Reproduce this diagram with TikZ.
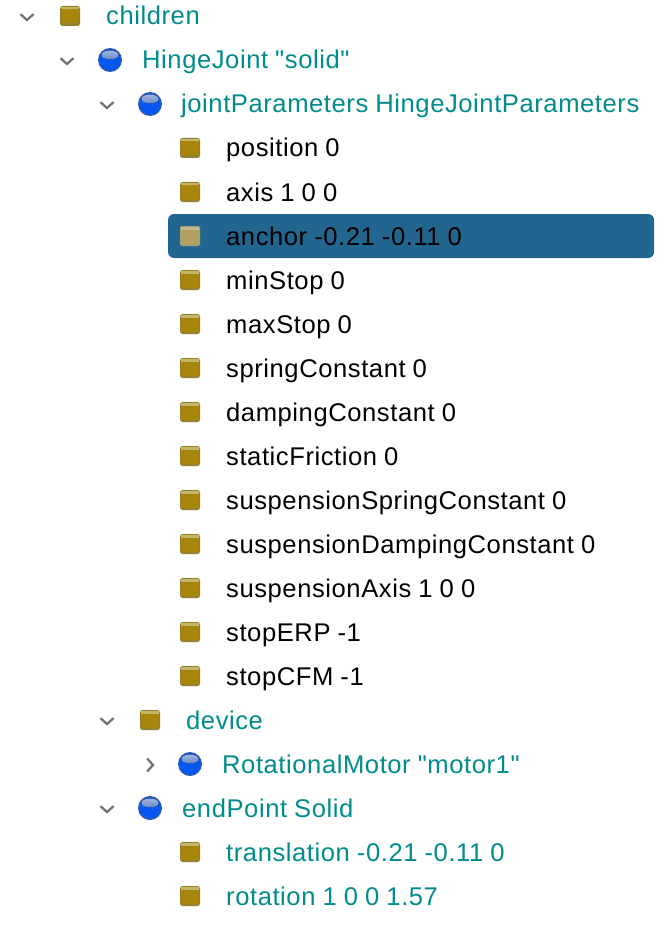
\documentclass[tikz,border=0pt]{standalone}
\usepackage{fontspec}
\setmainfont[Ligatures=TeXOff,LetterSpace=2.2,WordSpace=0.92]{Liberation Sans}
\definecolor{tealtxt}{HTML}{008C8C}
\definecolor{selblue}{HTML}{22658F}
\definecolor{chev}{HTML}{6E6E6E}
\definecolor{boxgold}{HTML}{A8860C}
\definecolor{boxedge}{HTML}{94802F}
\definecolor{boxlight}{HTML}{C6B468}
\definecolor{boxveil}{HTML}{B9BDB0}
\definecolor{ballblue}{HTML}{0558F2}
\definecolor{balledge}{HTML}{2C5AAE}
\definecolor{balllight}{HTML}{A3B8DA}
\definecolor{balllow}{HTML}{6288CC}
\tikzset{
  lbl/.style={anchor=base west,inner sep=0pt,font=\fontsize{25.6}{28}\selectfont},
  fieldlbl/.style={lbl,text=black},
  nodelbl/.style={lbl,text=tealtxt},
  chevline/.style={draw=chev,line width=2.2pt,line cap=butt,line join=miter},
}
\newcommand{\chevdown}[2]{\draw[chevline] (#1-6.5,#2-2.8) -- (#1,#2+3) -- (#1+6.5,#2-2.8);}
\newcommand{\chevright}[2]{\draw[chevline] (#1-2.8,#2-6.5) -- (#1+3,#2) -- (#1-2.8,#2+6.5);}
\newcommand{\goldbox}[2]{%
  \fill[boxedge,rounded corners=2.5pt] (#1-10,#2-10) rectangle (#1+10,#2+10);
  \fill[boxgold] (#1-8.7,#2-6.5) rectangle (#1+8.7,#2+7.5);
  \fill[boxlight] (#1-8.7,#2-9) rectangle (#1+8.7,#2-6.5);
}
\newcommand{\blueball}[2]{%
  \fill[balledge] (#1,#2) circle (12);
  \fill[ballblue] (#1,#2) circle (10.6);
  \fill[top color=balllight,bottom color=balllow] (#1,#2-5) ellipse (8.5 and 4.5);
}
\begin{document}
\begin{tikzpicture}[x=1pt,y=-1pt]
\useasboundingbox (0,0) rectangle (670,928);
\fill[white] (0,0) rectangle (670,928);
\fill[selblue,rounded corners=6pt] (168,214) rectangle (654,258);
% expand arrows / icons
\chevdown{27}{17}\goldbox{70}{16}
\chevdown{67}{61}\blueball{110}{60}
\chevdown{107}{105}\blueball{150}{104}
\goldbox{190}{148}
\goldbox{190}{192}
\goldbox{190}{236}
\fill[boxveil,opacity=.5,rounded corners=2pt] (180,226) rectangle (200,246);
\foreach \yy in {280,324,368,412,456,500,544,588,632,676}{\goldbox{190}{\yy}}
\chevdown{107}{721}\goldbox{150}{720}
\chevright{150}{765}\blueball{190}{764}
\chevdown{107}{809}\blueball{150}{808}
\goldbox{190}{852}
\goldbox{190}{896}
% labels
\node[nodelbl] (children) at (106,25) {children};
\node[nodelbl] (hinge) at (142,69) {HingeJoint "solid"};
\node[nodelbl] (joint) at (181,113) {jointParameters HingeJointParameters};
\node[fieldlbl] (position) at (226,157) {position 0};
\node[fieldlbl] (axis) at (226,201) {axis 1 0 0};
\node[fieldlbl] (anchor) at (226,245) {anchor -0.21 -0.11 0};
\node[fieldlbl] (minstop) at (226,289) {minStop 0};
\node[fieldlbl] (maxstop) at (226,333) {maxStop 0};
\node[fieldlbl] (spring) at (226,377) {springConstant 0};
\node[fieldlbl] (damping) at (226,421) {dampingConstant 0};
\node[fieldlbl] (friction) at (226,465) {staticFriction 0};
\node[fieldlbl] (susspring) at (226,509) {suspensionSpringConstant 0};
\node[fieldlbl] (susdamp) at (226,553) {suspensionDampingConstant 0};
\node[fieldlbl] (susaxis) at (226,597) {suspensionAxis 1 0 0};
\node[fieldlbl] (erp) at (226,641) {stopERP -1};
\node[fieldlbl] (cfm) at (226,685) {stopCFM -1};
\node[nodelbl] (device) at (186,729) {device};
\node[nodelbl] (motor) at (222,773) {RotationalMotor "motor1"};
\node[nodelbl] (endpoint) at (182,817) {endPoint Solid};
\node[nodelbl] (translation) at (226,861) {translation -0.21 -0.11 0};
\node[nodelbl] (rotation) at (226,905) {rotation 1 0 0 1.57};
\end{tikzpicture}
\end{document}
